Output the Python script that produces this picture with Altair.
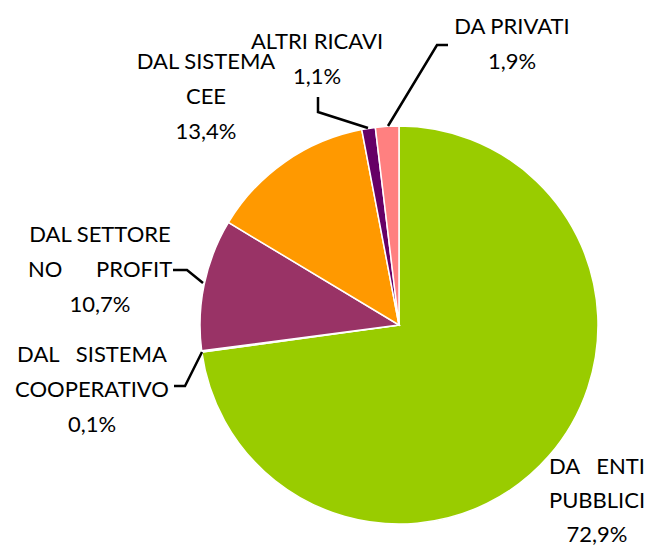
import altair as alt
import pandas as pd

# ---- data ----
categories = ["DA ENTI PUBBLICI", "DAL SISTEMA COOPERATIVO", "DAL SETTORE NO PROFIT",
              "DAL SISTEMA CEE", "ALTRI RICAVI", "DA PRIVATI"]
values = [72.9, 0.1, 10.7, 13.4, 1.1, 1.9]
colors = ["#99CC00", "#339966", "#993366", "#FF9900", "#660066", "#FF8080"]
label_names = [
    ["DA\u00a0\u00a0\u00a0ENTI", "PUBBLICI"],
    ["DAL\u00a0\u00a0\u00a0SISTEMA", "COOPERATIVO"],
    ["DAL SETTORE", "NO\u00a0\u00a0\u00a0\u00a0\u00a0\u00a0PROFIT"],
    ["DAL SISTEMA", "CEE"],
    ["ALTRI RICAVI"],
    ["DA PRIVATI"],
]

# ---- layout (chart pixel coordinates, first text line) ----
W, H = 643, 542
CX, CY, R = 391, 317, 199
label_pos = [(589, 459), (84, 347), (92, 227), (198, 54), (309, 34), (504, 19)]
line_heights = [34, 35, 35, 35, 35, 35]
leaders = [
    [],
    [(166, 378), (177, 378), (194, 344)],
    [(165, 262), (179, 262), (195, 275)],
    [],
    [(310, 89), (310, 104), (360, 120)],
    [(440, 37), (429, 37), (380, 118)],
]

pct = [f"{v:.1f}".replace(".", ",") + "%" for v in values]
df = pd.DataFrame({"cat": categories, "value": values, "order": list(range(len(values)))})
lead_rows = []
for i, pts in enumerate(leaders):
    for j, (x, y) in enumerate(pts):
        lead_rows.append({"grp": i, "k": j, "x": x, "y": y})
lead = pd.DataFrame(lead_rows)

pie = alt.Chart(df).mark_arc(outerRadius=R, stroke="white", strokeWidth=1.5).encode(
    theta=alt.Theta("value:Q", stack=True),
    order=alt.Order("order:Q"),
    color=alt.Color("cat:N", scale=alt.Scale(domain=categories, range=colors), legend=None),
    x=alt.value(CX), y=alt.value(CY),
)

lines = alt.Chart(lead).mark_line(color="black", strokeWidth=2.5).encode(
    x=alt.X("x:Q", scale=None), y=alt.Y("y:Q", scale=None),
    detail="grp:N", order="k:Q",
)

# one text row per line of each label
rows = []
for names, p, (x, y), lh in zip(label_names, pct, label_pos, line_heights):
    for k, t in enumerate(names + [p]):
        rows.append({"text": t, "x": x, "y": y + k * lh})
lab = pd.DataFrame(rows)

texts = alt.Chart(lab).mark_text(font="Lato", fontSize=22, align="center",
                                 baseline="middle", color="black").encode(
    x=alt.X("x:Q", scale=None), y=alt.Y("y:Q", scale=None), text="text:N",
)

chart = alt.layer(pie, lines, texts).properties(
    width=W, height=H, padding=0, autosize=alt.AutoSizeParams(type="none")
).configure_view(stroke=None)

chart.save("out.html", embed_options={"renderer": "svg", "actions": False})
